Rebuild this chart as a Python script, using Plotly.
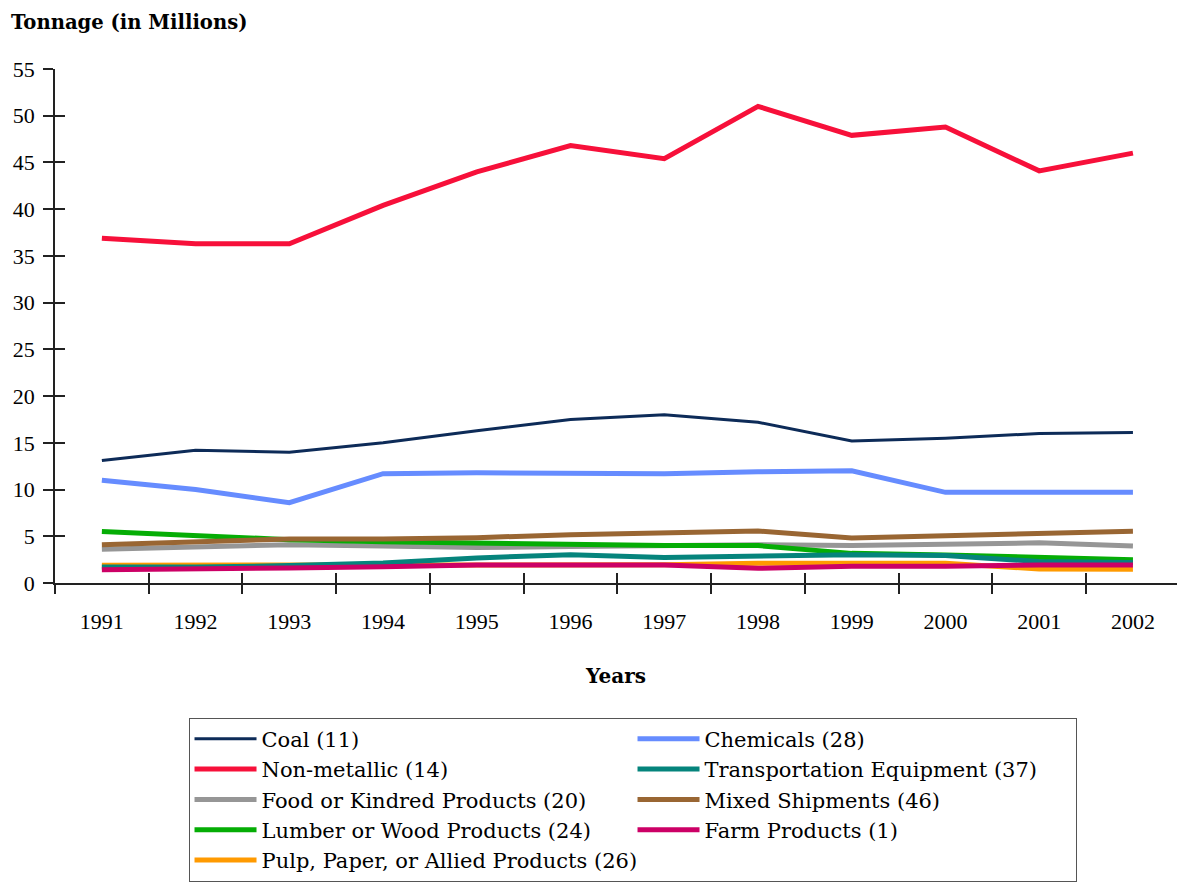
import plotly.graph_objects as go

years = [1991, 1992, 1993, 1994, 1995, 1996, 1997, 1998, 1999, 2000, 2001, 2002]
year_labels = [str(y) for y in years]
y_ticks = [0, 5, 10, 15, 20, 25, 30, 35, 40, 45, 50, 55]

coal = [13.1, 14.2, 14.0, 15.0, 16.3, 17.5, 18.0, 17.2, 15.2, 15.5, 16.0, 16.1]
non_metallic = [36.9, 36.3, 36.3, 40.4, 44.0, 46.8, 45.4, 51.0, 47.9, 48.8, 44.1, 46.0]
food = [3.6, 3.9, 4.1, 3.95, 3.8, 3.9, 4.0, 4.1, 4.0, 4.1, 4.3, 3.95]
lumber = [5.5, 5.07, 4.64, 4.42, 4.25, 4.1, 4.0, 4.0, 3.17, 3.0, 2.74, 2.5]
pulp = [1.9, 1.9, 1.9, 1.95, 1.95, 1.95, 1.95, 2.1, 2.1, 2.1, 1.5, 1.47]
chemicals = [11.0, 10.0, 8.6, 11.7, 11.8, 11.8, 11.7, 11.9, 12.0, 9.7, 9.7, 9.7]
transport = [1.7, 1.7, 1.86, 2.14, 2.68, 3.03, 2.74, 2.82, 3.03, 2.93, 2.3, 2.2]
mixed = [4.1, 4.39, 4.71, 4.71, 4.85, 5.17, 5.39, 5.57, 4.82, 5.07, 5.35, 5.53]
farm = [1.42, 1.45, 1.6, 1.75, 1.93, 1.93, 1.93, 1.57, 1.78, 1.78, 1.93, 1.93]

# name, values, colour, width, legend rank (two-column legend read row by row)
series = [
    ("Coal (11)", coal, "#0d2b58", 3, 1),
    ("Non-metallic (14)", non_metallic, "#f7103a", 5, 3),
    ("Food or Kindred Products (20)", food, "#969696", 5, 5),
    ("Lumber or Wood Products (24)", lumber, "#05ad05", 5, 7),
    ("Pulp, Paper, or Allied Products (26)", pulp, "#ff9a00", 5, 9),
    ("Chemicals (28)", chemicals, "#668cff", 5, 2),
    ("Transportation Equipment (37)", transport, "#05847c", 5, 4),
    ("Mixed Shipments (46)", mixed, "#996633", 5, 6),
    ("Farm Products (1)", farm, "#cc0066", 5, 8),
]

TICK_FONT = "Liberation Serif"
TEXT_FONT = "DejaVu Serif"
fig = go.Figure()
for name, vals, color, width, rank in series:
    fig.add_trace(go.Scatter(
        x=years, y=vals, mode="lines", name=name,
        line=dict(color=color, width=width),
        legendrank=rank,
    ))

x_range = [1990.5, 2002.47]
boundaries = [y - 0.5 for y in years] + [years[-1] + 0.5]

fig.update_layout(
    width=1177, height=882,
    margin=dict(l=55, r=0, t=69, b=299),
    paper_bgcolor="white", plot_bgcolor="white",
    font=dict(family=TICK_FONT, size=22, color="black"),
    showlegend=True,
    legend=dict(
        orientation="h",
        x=0.119, xanchor="left",
        y=-0.262, yanchor="top",
        itemwidth=62,
        entrywidth=366, entrywidthmode="pixels",
        bordercolor="#555555", borderwidth=1,
        font=dict(family=TEXT_FONT, size=21),
        traceorder="normal",
    ),
    xaxis=dict(
        range=x_range, tickvals=years, ticktext=year_labels,
        ticks="", showgrid=False, zeroline=False,
        showline=True, linecolor="#222222", linewidth=1.5,
        ticklabelstandoff=18,
        title=dict(text="<b>Years</b>", standoff=36,
                   font=dict(family=TEXT_FONT, size=20)),
    ),
    xaxis2=dict(
        range=x_range, overlaying="x", anchor="y", side="bottom",
        tickvals=boundaries, ticks="outside", ticklen=10, tickwidth=1.5,
        tickcolor="#222222", showticklabels=False, showgrid=False,
        zeroline=False, showline=False,
    ),
    xaxis3=dict(
        range=x_range, overlaying="x", anchor="y", side="bottom",
        tickvals=boundaries, ticks="inside", ticklen=10, tickwidth=1.5,
        tickcolor="#222222", showticklabels=False, showgrid=False,
        zeroline=False, showline=False,
    ),
    yaxis=dict(
        range=[0, 55], tickvals=y_ticks, ticks="outside", ticklen=10,
        tickwidth=1.5, tickcolor="#222222", showgrid=False, zeroline=False,
        showline=True, linecolor="#222222", linewidth=1.5,
        ticklabelstandoff=4,
    ),
    yaxis2=dict(
        range=[0, 55], overlaying="y", anchor="x", side="left",
        tickvals=y_ticks, ticks="inside", ticklen=10, tickwidth=1.5,
        tickcolor="#222222", showticklabels=False, showgrid=False,
        zeroline=False, showline=False,
    ),
    annotations=[dict(
        text="<b>Tonnage (in Millions)</b>", xref="paper", yref="paper",
        x=-0.041, xanchor="left", y=1.091, yanchor="middle",
        showarrow=False, font=dict(family=TEXT_FONT, size=19.6),
    )],
)

# invisible carriers so the overlaid tick axes are drawn
fig.add_trace(go.Scatter(x=[years[0]], y=[0], xaxis="x2", yaxis="y2",
                         mode="markers", marker=dict(opacity=0),
                         showlegend=False, hoverinfo="skip"))
fig.add_trace(go.Scatter(x=[years[0]], y=[0], xaxis="x3", yaxis="y",
                         mode="markers", marker=dict(opacity=0),
                         showlegend=False, hoverinfo="skip"))

fig.write_html("out.html")
